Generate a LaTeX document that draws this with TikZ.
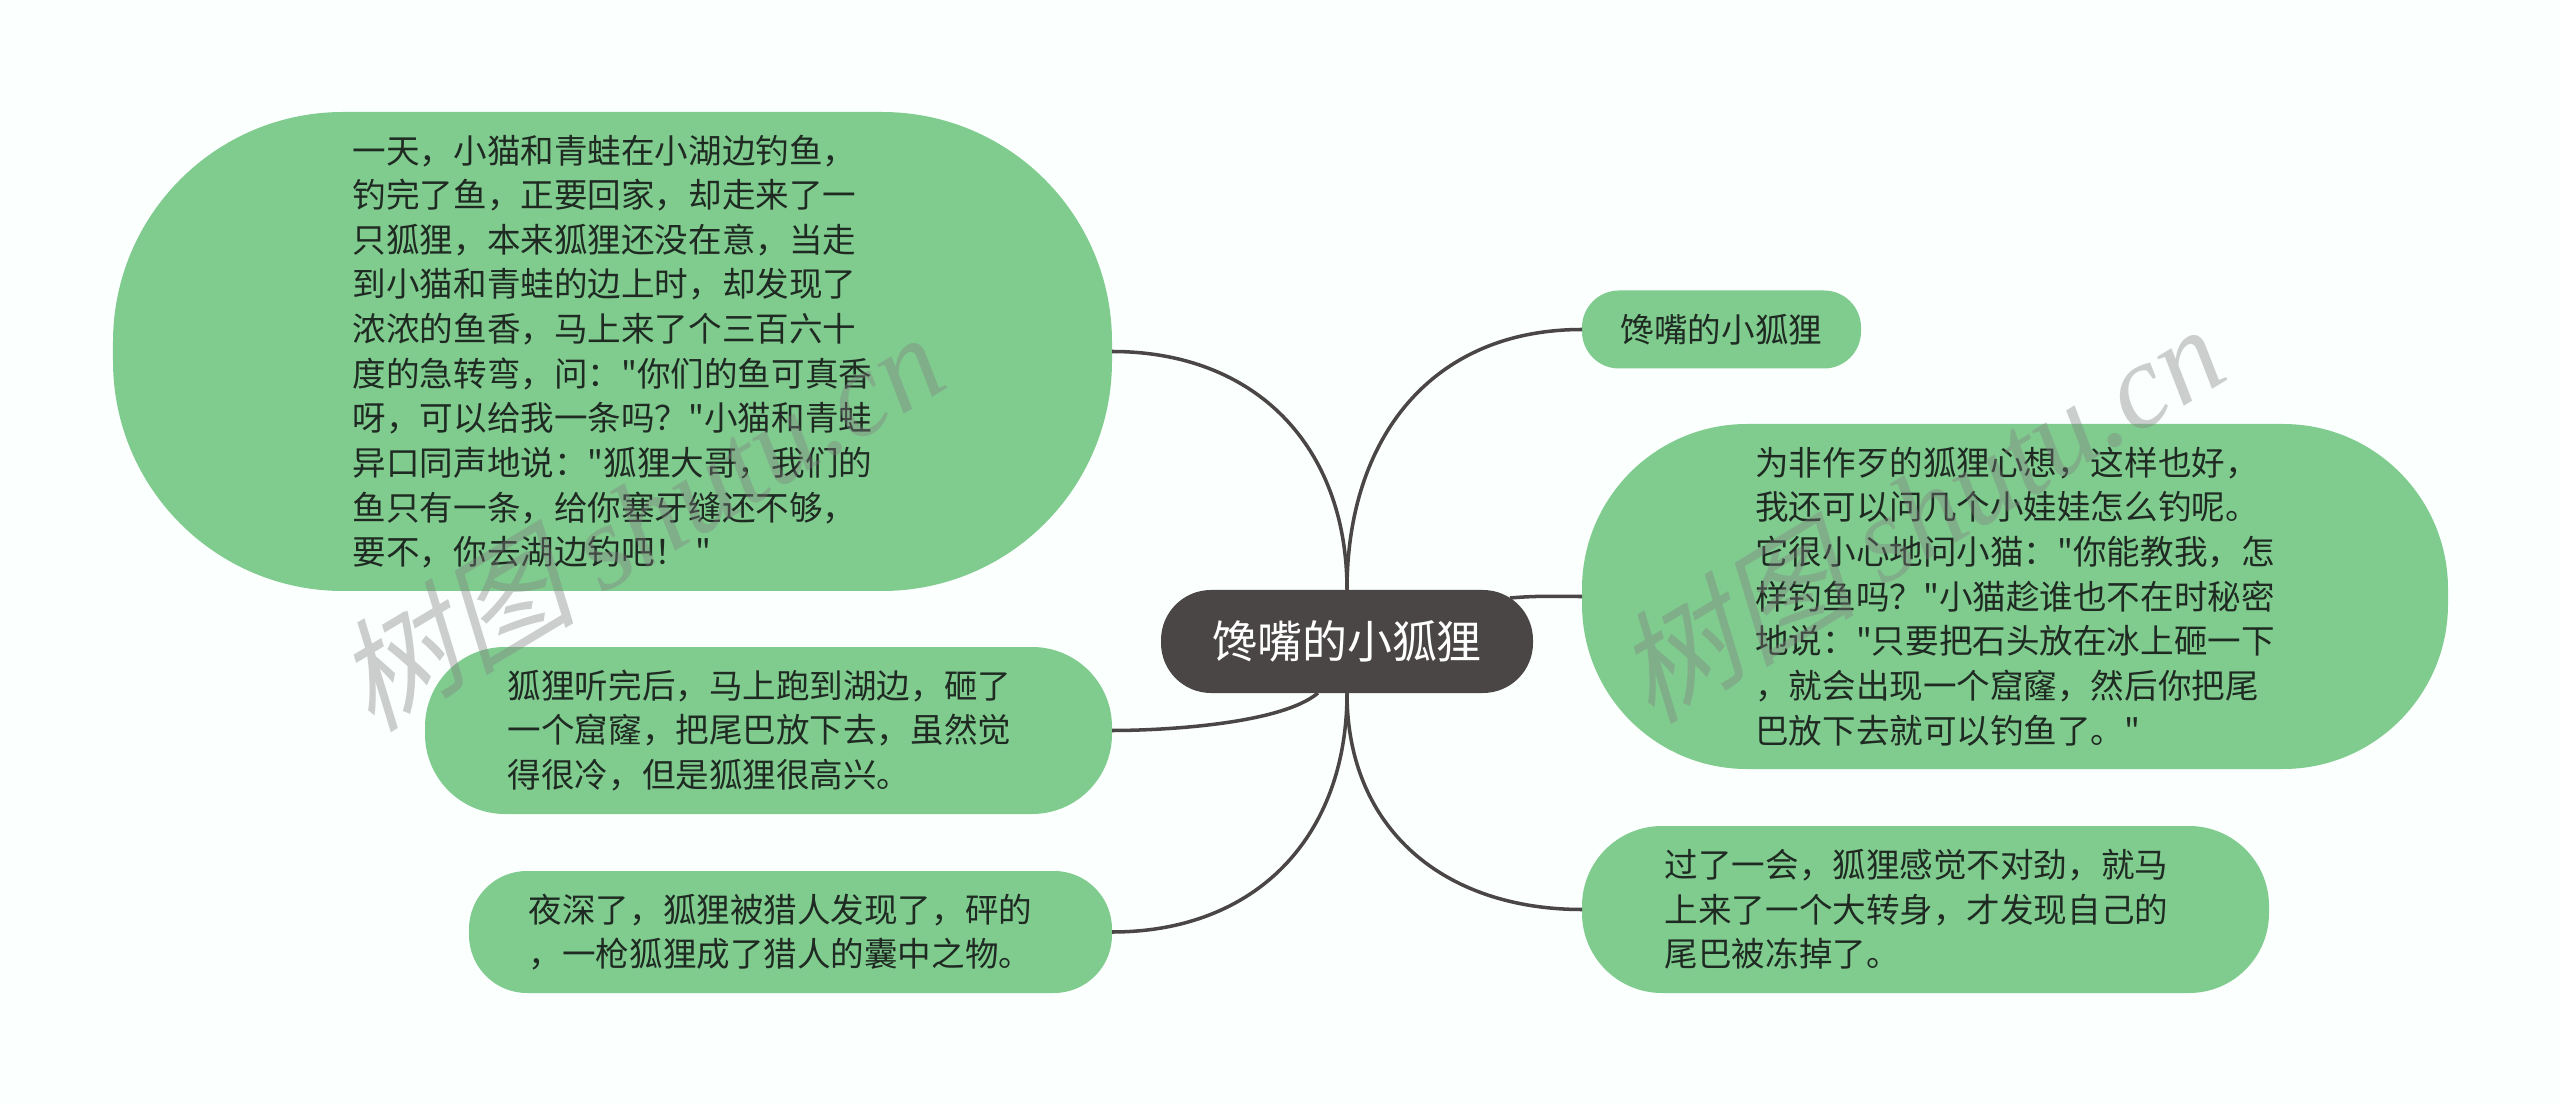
\documentclass[tikz,border=0pt]{standalone}
\usepackage{fontspec}
\usepackage{xcolor}
\usetikzlibrary{calc}
\usetikzlibrary{positioning}
\newfontfamily\cjk{Noto Sans CJK SC}
\newfontfamily\cjkslant[FakeSlant=0.25]{Noto Sans CJK SC}
\newfontfamily\latinslant{Liberation Serif}
\definecolor{pagebg}{HTML}{FBFFFE}
\definecolor{leafgreen}{HTML}{80CC8F}
\definecolor{rootgray}{HTML}{4B4646}
\definecolor{inkdark}{HTML}{1F2A22}
\definecolor{markgray}{HTML}{7F7F7F}
\begin{document}
\begin{tikzpicture}[-,auto,node distance=0.49cm, semithick]
		\tikzstyle{rootnode}=[fill=rootgray, text=white, inner sep=0pt, outer sep=0pt, rounded corners=0.5cm, minimum width=3.72cm, minimum height=1.03cm, font=\cjk\fontsize{12.8}{15}\selectfont]
		\tikzstyle{leaf}=[fill=leafgreen, text=inkdark, inner sep=0pt, outer sep=0pt, align=left, font=\cjk\fontsize{9.55}{12.7}\selectfont]
		\tikzstyle{branch}=[draw=rootgray, line width=1pt]
		\tikzstyle{watermark}=[text=markgray, opacity=0.38, rotate=31, font=\fontsize{34.5}{40}\selectfont]
			\useasboundingbox[fill=pagebg] (0,0) rectangle (25.6,11.05);
			\node[rootnode] (root) at (13.47,4.635) {馋嘴的小狐狸};
			\node[leaf, minimum width=9.99cm, minimum height=4.79cm, rounded corners=2.3cm] (catfrog) [left=of root, yshift=2.9cm] {一天，小猫和青蛙在小湖边钓鱼，\\钓完了鱼，正要回家，却走来了一\\只狐狸，本来狐狸还没在意，当走\\到小猫和青蛙的边上时，却发现了\\浓浓的鱼香，马上来了个三百六十\\度的急转弯，问："你们的鱼可真香\hspace*{0.08cm}\\呀，可以给我一条吗？"小猫和青蛙\\异口同声地说："狐狸大哥，我们的\\鱼只有一条，给你塞牙缝还不够，\\要不，你去湖边钓吧！ "};
			\node[leaf, minimum width=6.87cm, minimum height=1.67cm, rounded corners=0.8cm] (hole) [left=of root, yshift=-0.89cm] {狐狸听完后，马上跑到湖边，砸了\hspace*{0.18cm}\\一个窟窿，把尾巴放下去，虽然觉\\得很冷，但是狐狸很高兴。};
			\node[leaf, minimum width=6.43cm, minimum height=1.22cm, rounded corners=0.58cm] (hunter) [left=of root, yshift=-2.905cm] {夜深了，狐狸被猎人发现了，砰的\hspace*{0.2cm}\\，一枪狐狸成了猎人的囊中之物。};
			\node[leaf, minimum width=2.79cm, minimum height=0.78cm, rounded corners=0.37cm] (title) [right=of root, yshift=3.12cm] {馋嘴的小狐狸};
			\node[leaf, minimum width=8.66cm, minimum height=3.45cm, rounded corners=1.65cm] (scheme) [right=of root, yshift=0.45cm] {为非作歹的狐狸心想，这样也好，\\我还可以问几个小娃娃怎么钓呢。\\它很小心地问小猫："你能教我，怎\\样钓鱼吗？"小猫趁谁也不在时秘密\\地说："只要把石头放在冰上砸一下\\，就会出现一个窟窿，然后你把尾\\巴放下去就可以钓鱼了。"};
			\node[leaf, minimum width=6.87cm, minimum height=1.67cm, rounded corners=0.8cm] (frozen) [right=of root, yshift=-2.68cm] {过了一会，狐狸感觉不对劲，就马\hspace*{0.18cm}\\上来了一个大转身，才发现自己的\\尾巴被冻掉了。};
			\coordinate (rootright) at ($(root.center)+(1.63,0.435)$);
			\coordinate (rootleft) at ($(root.center)+(-0.29,-0.515)$);
			\draw[branch] (root.north) to[out=90,in=0,looseness=1.1] (catfrog.east);
			\draw[branch] (rootleft) to[out=-140,in=0,looseness=0.6] (hole.east);
			\draw[branch] (root.south) to[out=-90,in=0,looseness=1.1] (hunter.east);
			\draw[branch] (root.north) to[out=90,in=180,looseness=1.1] (title.west);
			\draw[branch] (rootright) to[out=5,in=180] (scheme.west);
			\draw[branch] (root.south) to[out=-90,in=180,looseness=1.1] (frozen.west);
			\node[watermark] (markleft) at (6.38,5.85) {\cjkslant 树图 \latinslant\itshape shutu.cn};
			\node[watermark] (markright) at (19.18,5.93) {\cjkslant 树图 \latinslant\itshape shutu.cn};
 	\end{tikzpicture}
\end{document}
